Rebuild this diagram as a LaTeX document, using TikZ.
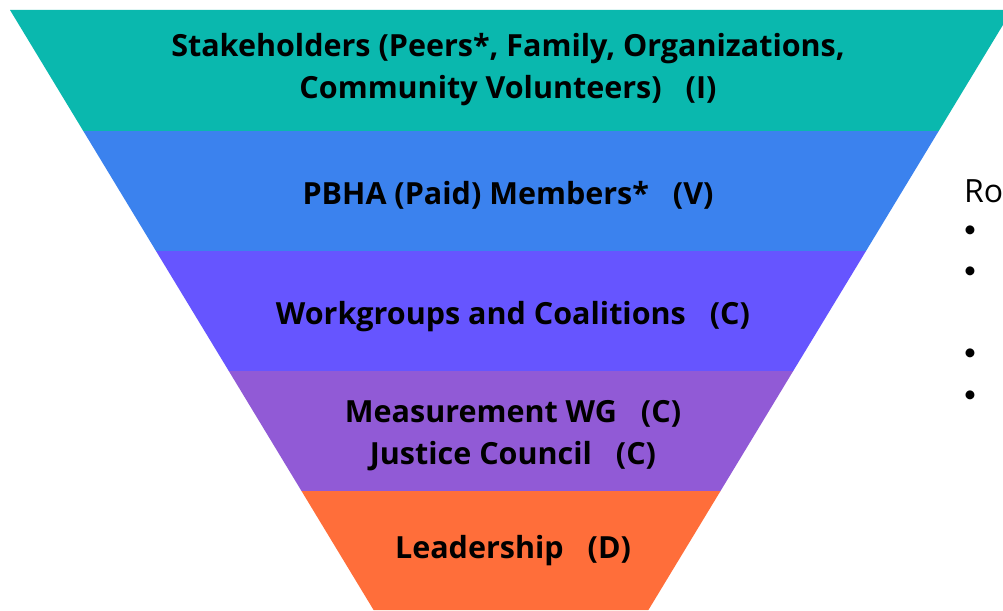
\documentclass[tikz,border=0pt]{standalone}
\usepackage{fontspec}
\setmainfont{Open Sans}
\newfontfamily\bandfont{Open Sans}[UprightFont=* Bold]
\newfontfamily\bulfont{Lato}
\definecolor{cteal}{RGB}{10,184,174}
\definecolor{cblue}{RGB}{59,130,238}
\definecolor{cviolet}{RGB}{102,85,255}
\definecolor{cpurple}{RGB}{145,90,214}
\definecolor{corange}{RGB}{255,110,58}
\tikzset{
  bandtext/.style={font=\bandfont\fontsize{30.5}{42}\selectfont, text=black, align=center, inner sep=0pt},
  sidetext/.style={font=\fontsize{32}{36}\selectfont, text=black, anchor=base west, inner sep=0pt},
  bul/.style={font=\bulfont\fontsize{24}{24}\selectfont, text=black, inner sep=0pt},
}
\newcommand{\gp}{\hspace{24pt}}
\begin{document}
\begin{tikzpicture}[x=1pt,y=-1pt]
\useasboundingbox (0,0) rectangle (1003,610);
\clip (0,0) rectangle (1003,610);
\fill[white] (0,0) rectangle (1003,610);
% half widths: hw(y)=501-0.606(y-10), centre x=511
\fill[cteal]   (10,10) -- (1012,10) -- (938.7,131) -- (83.3,131) -- cycle;
\fill[cblue]   (83.3,131) -- (938.7,131) -- (866,251) -- (156,251) -- cycle;
\fill[cviolet] (156,251) -- (866,251) -- (793.2,371) -- (228.8,371) -- cycle;
\fill[cpurple] (228.8,371) -- (793.2,371) -- (720.5,491) -- (301.5,491) -- cycle;
\fill[corange] (301.5,491) -- (720.5,491) -- (648.4,610) -- (373.6,610) -- cycle;
\node[bandtext] (t1) at (508,70) {Stakeholders (Peers*, Family, Organizations,\\Community Volunteers)\gp(I)};
\node[bandtext] (t2) at (508,195) {PBHA (Paid) Members*\gp(V)};
\node[bandtext] (t3) at (513,317) {Workgroups and Coalitions\gp(C)};
\node[bandtext] (t4) at (513,436) {Measurement WG\gp(C)\\Justice Council\gp(C)};
\node[bandtext] (t5) at (513,551) {Leadership\gp(D)};
\node[sidetext] (ro) at (964,202) {Ro};
\node[bul] (b1) at (970,232) {•};
\node[bul] (b2) at (970,273) {•};
\node[bul] (b3) at (970,355) {•};
\node[bul] (b4) at (970,397) {•};
\end{tikzpicture}
\end{document}
